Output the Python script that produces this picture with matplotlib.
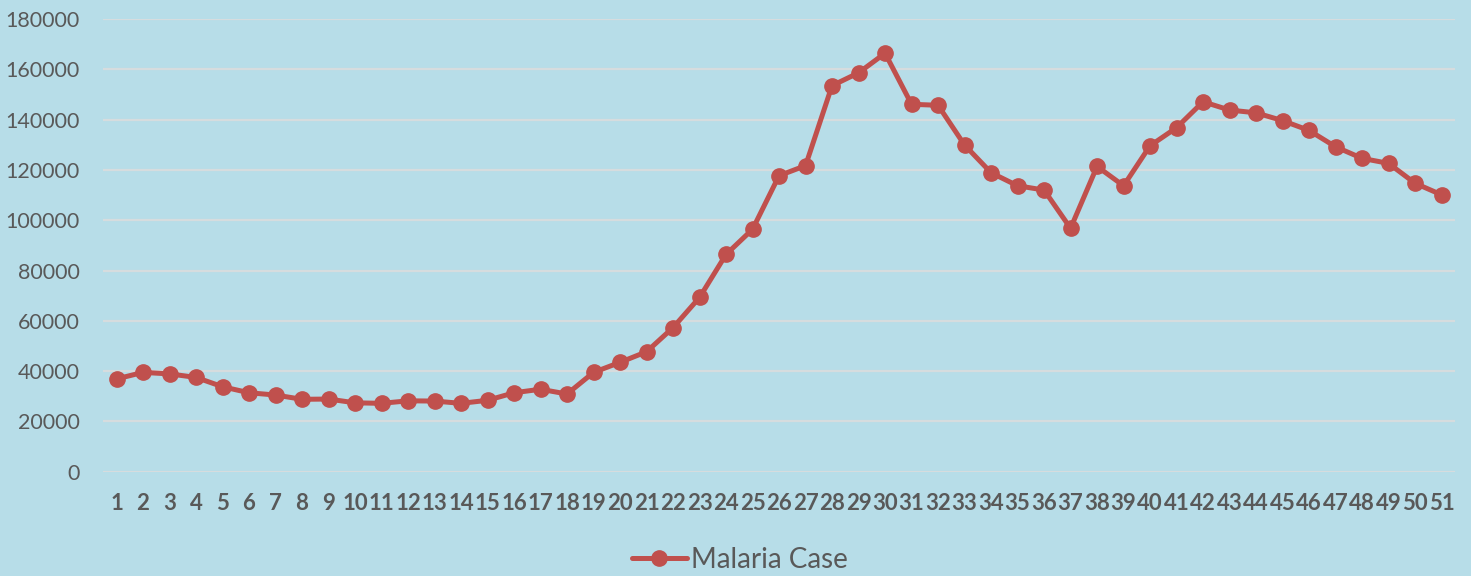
import matplotlib.pyplot as plt
import numpy as np

plt.rcParams["font.family"] = ["Lato", "DejaVu Sans"]

# weekly malaria case counts
weeks = list(range(1, 52))
cases = [
    36900, 39500, 38900, 37500, 33800, 31400, 30500, 28800, 28900, 27400,
    27200, 28200, 28100, 27200, 28400, 31400, 32800, 30900, 39500, 43500,
    47700, 57300, 69300, 86400, 96400, 117700, 121700, 153500, 158600, 166400,
    146100, 145700, 129900, 118900, 113700, 112000, 96800, 121400, 113700, 129600,
    136800, 147100, 143800, 142700, 139600, 135700, 129200, 124600, 122600, 114700,
    110100,
]
y_ticks = list(range(0, 180001, 20000))
series_label = "Malaria Case"

BG = "#B7DDE8"
LINE = "#C0504D"
TEXT = "#595959"

fig = plt.figure(figsize=(14.71, 5.76), dpi=100, facecolor=BG)
ax = fig.add_axes([0.0702, 0.181, 0.9188, 0.786])
ax.set_facecolor(BG)

ax.plot(weeks, cases, color=LINE, linewidth=3.6, marker="o", markersize=11,
        label=series_label, solid_capstyle="round")

ax.set_xlim(0.5, 51.5)
ax.set_ylim(0, 180000)
ax.set_yticks(y_ticks)
ax.set_yticklabels([str(v) for v in y_ticks])
ax.set_xticks(weeks)
ax.set_xticklabels([str(w) for w in weeks], fontweight="bold")

ax.grid(axis="y", color="#D6DCDE", linewidth=1.6)
ax.set_axisbelow(True)
for side in ax.spines.values():
    side.set_visible(False)

ax.tick_params(axis="y", length=0, pad=17, labelsize=15.5, labelcolor=TEXT)
ax.tick_params(axis="x", length=0, pad=15, labelsize=16, labelcolor=TEXT)

leg = fig.legend(loc="center", bbox_to_anchor=(0.503, 16 / 576), frameon=False,
                 fontsize=20, handlelength=2.0, handletextpad=0.15,
                 labelcolor=TEXT)

fig.savefig("out.png", dpi=100, facecolor=BG)
